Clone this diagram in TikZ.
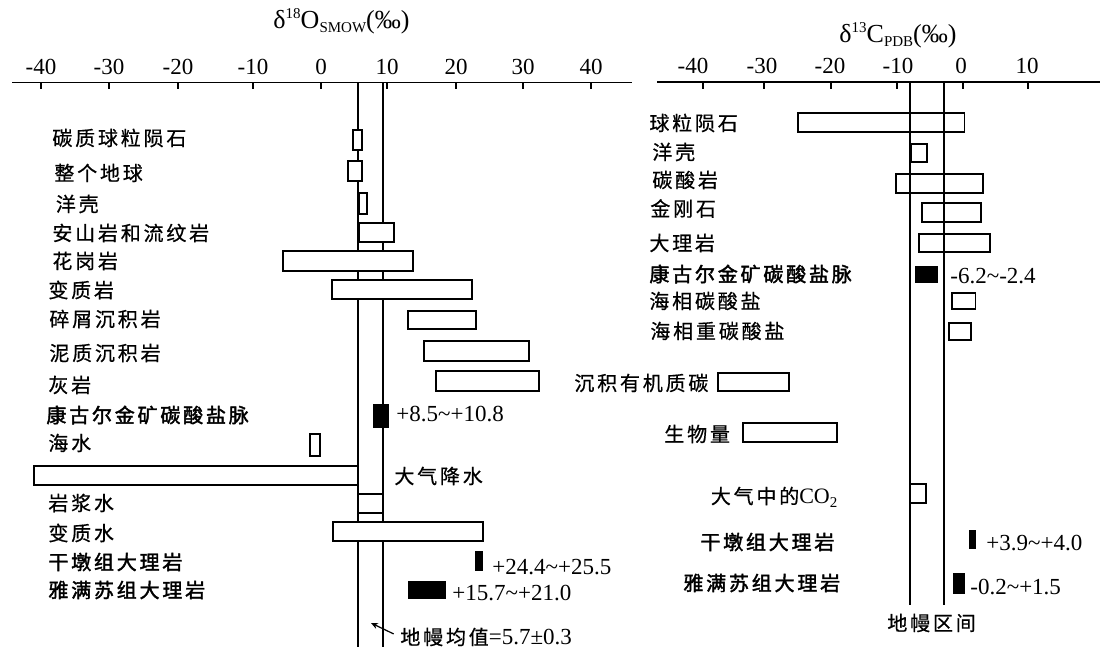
\documentclass[tikz,border=0pt]{standalone}
\usepackage{fontspec}
\setmainfont{Liberation Serif}
\newfontfamily\cjk[LetterSpace=14,FakeBold=0.6]{Noto Sans CJK SC}
\newfontfamily\cjkb[LetterSpace=14,FakeBold=2]{Noto Sans CJK SC}
\usetikzlibrary{arrows.meta}
\newcommand\supsm[1]{\raisebox{0.85ex}{\fontsize{7.5}{8}\selectfont #1}}
\newcommand\subsm[1]{\raisebox{-0.35ex}{\fontsize{7.5}{8}\selectfont #1}}
\begin{document}
\begin{tikzpicture}[x=0.5pt,y=-0.5pt,
  lbl/.style={anchor=west,inner sep=0pt,font=\cjk\fontsize{10}{12}\selectfont},
  blbl/.style={anchor=west,inner sep=0pt,font=\cjkb\fontsize{10}{12}\selectfont},
  val/.style={anchor=west,inner sep=0pt,font=\fontsize{11.5}{13}\selectfont},
  tk/.style={inner sep=0pt,font=\fontsize{11.5}{13}\selectfont},
  ttl/.style={inner sep=0pt,font=\fontsize{13}{15}\selectfont},
  wbar/.style={draw,line width=0.8pt,fill=white},
  obar/.style={draw,line width=0.8pt},
  sbar/.style={draw,line width=0.8pt,fill=black},
  mantle/.style={line width=0.75pt},
  axisln/.style={line width=0.8pt},
  tickln/.style={line width=0.8pt},
  arr/.style={line width=0.6pt,-{Stealth[length=3.5pt,width=3pt]}}]
\useasboundingbox (0,0) rectangle (1100,652);
\fill[white] (0,0) rectangle (1100,652);

% ---------- left panel ----------
\node[ttl] (t1) at (341.5,21) {δ\supsm{18}O\subsm{SMOW}(‰)};
\draw[axisln] (12,82.5) -- (632,82.5);
\foreach \xx/\lab in {41/-40,109/-30,178/-20,253/-10,321/0,387/10,456/20,523/30,591/40}{
  \draw[tickln] (\xx,82.5) -- (\xx,89);
  \node[tk] at (\xx,66.5) {\lab};
}
\draw[mantle] (358,82.5) -- (358,647);
\draw[mantle] (383,82.5) -- (383,647);

\draw[wbar] (353,130) rectangle (362,150);
\draw[wbar] (348,161) rectangle (362,181);
\draw[wbar] (359,193) rectangle (367,214);
\draw[wbar] (359,223) rectangle (394,242);
\draw[wbar] (283,251) rectangle (413,271);
\draw[wbar] (332,280) rectangle (472,299);
\draw[wbar] (408,311) rectangle (476,329);
\draw[wbar] (424,341) rectangle (529,361);
\draw[wbar] (436,371) rectangle (539,391);
\draw[sbar] (374,405) rectangle (388,427);
\draw[wbar] (310,434) rectangle (320,456);
\draw[wbar] (34,466) rectangle (358,485);
\draw[obar] (358,494) rectangle (383,513);
\draw[wbar] (333,522) rectangle (483,541);
\draw[sbar] (476,552) rectangle (482,570);
\draw[sbar] (409,582) rectangle (445,598);

\node[lbl] (l1) at (52,138) {碳质球粒陨石};
\node[lbl] (l2) at (54,173) {整个地球};
\node[lbl] (l3) at (55.5,204) {洋壳};
\node[lbl] (l4) at (52,233) {安山岩和流纹岩};
\node[lbl] (l5) at (52,261) {花岗岩};
\node[lbl] (l6) at (48,290) {变质岩};
\node[lbl] (l7) at (49,319) {碎屑沉积岩};
\node[lbl] (l8) at (49,353) {泥质沉积岩};
\node[lbl] (l9) at (48,385) {灰岩};
\node[blbl] (l10) at (46,415) {康古尔金矿碳酸盐脉};
\node[lbl] (l11) at (48,443) {海水};
\node[lbl] (l12) at (394,476) {大气降水};
\node[lbl] (l13) at (48,503) {岩浆水};
\node[lbl] (l14) at (48,533) {变质水};
\node[blbl] (l15) at (48,562) {干墩组大理岩};
\node[blbl] (l16) at (48,590) {雅满苏组大理岩};

\node[val] (v1) at (396,414) {+8.5\textasciitilde+10.8};
\node[val] (v2) at (492,567) {+24.4\textasciitilde+25.5};
\node[val] (v3) at (452,593) {+15.7\textasciitilde+21.0};
\node[val] (mean) at (400,637) {{\cjk\fontsize{10}{12}\selectfont 地幔均值}=5.7±0.3};
\coordinate (tip) at (371,623);
\draw[arr,shorten <=3.5pt] (mean.west) -- (tip);

% ---------- right panel ----------
\node[ttl] (t2) at (898,35) {δ\supsm{13}C\subsm{PDB}(‰)};
\draw[axisln] (657,82) -- (1100,82);
\foreach \xx/\lc/\lab in {703/693/-40,764/762/-30,831/830/-20,897/898/-10,963/961/0,1028/1027/10}{
  \draw[tickln] (\xx,82) -- (\xx,89);
  \node[tk] at (\lc,65.5) {\lab};
}
\draw[mantle] (910,82) -- (910,605);
\draw[mantle] (944,82) -- (944,605);

\draw[obar] (798,113) rectangle (964.5,132);
\draw[obar] (911,144) rectangle (927,162);
\draw[obar] (896,174) rectangle (983,193);
\draw[obar] (922,203) rectangle (981,222);
\draw[obar] (919,234) rectangle (990,252);
\draw[sbar] (916,267) rectangle (937,282);
\draw[obar] (952,293) rectangle (975.5,309);
\draw[obar] (949,323) rectangle (971,340);
\draw[obar] (718,373) rectangle (789,391);
\draw[obar] (743,423) rectangle (837,442);
\draw[obar] (910,484) rectangle (926,503);
\draw[sbar] (969.5,531) rectangle (975,548);
\draw[sbar] (954,573.5) rectangle (964,593);

\node[lbl] (r1) at (649,123) {球粒陨石};
\node[lbl] (r2) at (652,152) {洋壳};
\node[lbl] (r3) at (652,180) {碳酸岩};
\node[lbl] (r4) at (650,208.5) {金刚石};
\node[lbl] (r5) at (649,243) {大理岩};
\node[blbl] (r6) at (649,274) {康古尔金矿碳酸盐脉};
\node[lbl] (r7) at (649,301) {海相碳酸盐};
\node[lbl] (r8) at (650,331) {海相重碳酸盐};
\node[lbl] (r9) at (574,383) {沉积有机质碳};
\node[lbl] (r10) at (664,434) {生物量};
\node[lbl] (r11) at (710.5,497) {大气中的{\rmfamily\fontsize{11}{12}\selectfont CO\subsm{2}}};
\node[blbl] (r12) at (700,542) {干墩组大理岩};
\node[blbl] (r13) at (683,583) {雅满苏组大理岩};
\node[lbl] (r14) at (887,623) {地幔区间};

\node[val] (w1) at (950,276) {-6.2\textasciitilde-2.4};
\node[val] (w2) at (986,543) {+3.9\textasciitilde+4.0};
\node[val] (w3) at (970,587) {-0.2\textasciitilde+1.5};
\end{tikzpicture}
\end{document}
